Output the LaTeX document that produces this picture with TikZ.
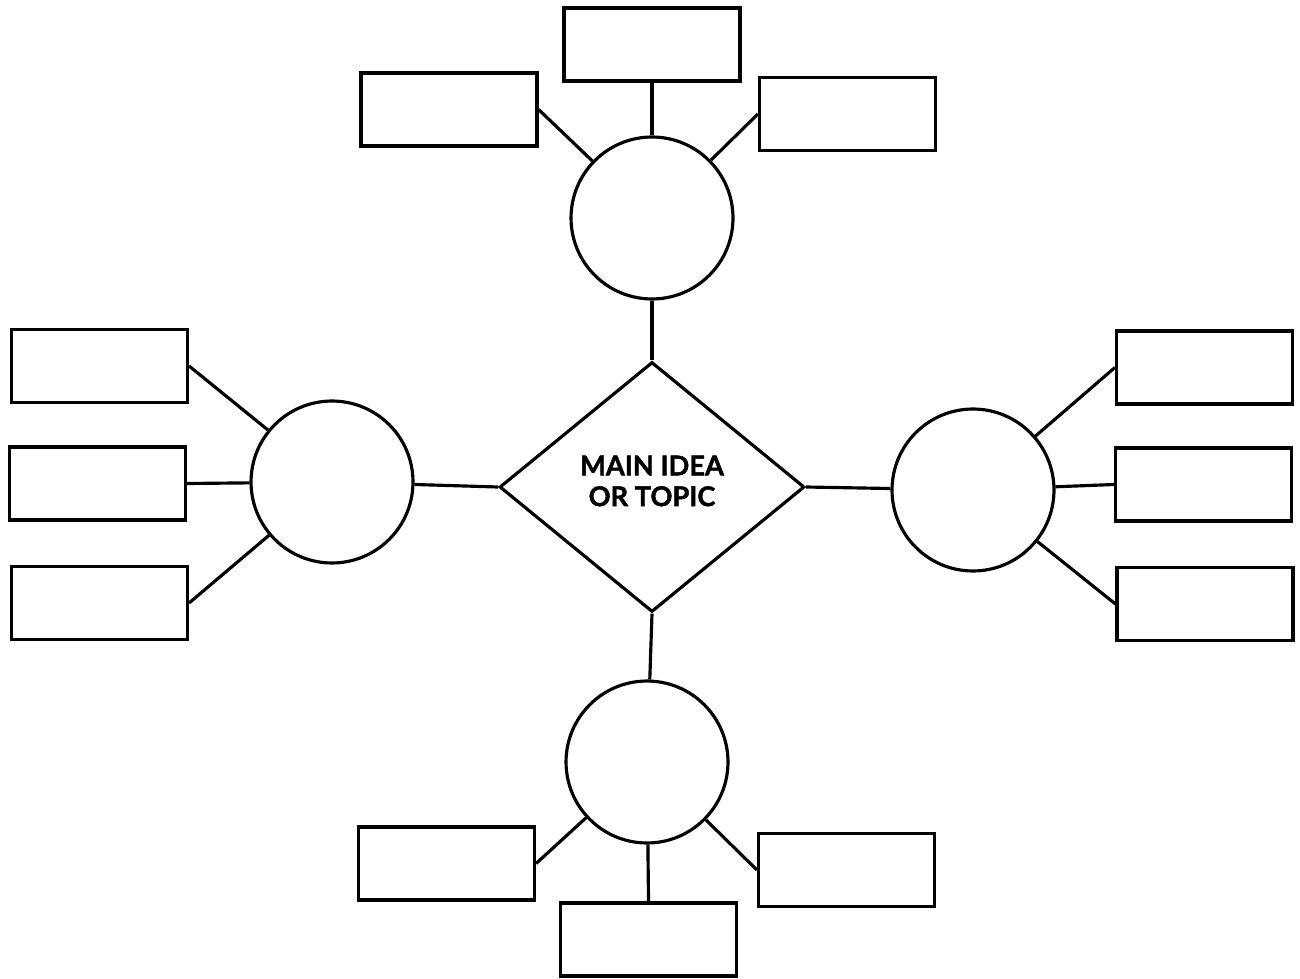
\documentclass[tikz,border=0pt]{standalone}
\usepackage{fontspec}
\newfontfamily\mainlbl{Lato}[FakeBold=1.5]
\usetikzlibrary{shapes.geometric}
\begin{document}
\begin{tikzpicture}[x=0.02cm,y=-0.02cm, line width=1.8pt,
  box/.style={draw, rectangle, minimum width=3.52cm, minimum height=1.46cm, inner sep=0pt},
  sub/.style={draw, circle, minimum size=3.24cm, inner sep=0pt},
  hub/.style={draw, diamond, minimum width=6.1cm, minimum height=5.0cm, inner sep=0pt},
  hubtext/.style={align=center, inner sep=0pt,
    font=\mainlbl\bfseries\fontsize{15.5}{18.5}\selectfont},
  link/.style={line width=1.8pt}]
\useasboundingbox (0,0) rectangle (1300,979);
\node[hub] (main) at (652,487) {};
\node[hubtext] (maintext) at (652,481) {MAIN IDEA\\[-1pt]OR TOPIC};
% circles
\node[sub] (ct) at (652,218) {};
\node[sub] (cl) at (332,482) {};
\node[sub] (cr) at (973,490) {};
\node[sub] (cb) at (647,762) {};
% boxes
\node[box] (t1) at (652,44.5) {};
\node[box] (t2) at (449,109.5) {};
\node[box] (t3) at (847.5,114) {};
\node[box] (l1) at (99.5,366) {};
\node[box] (l2) at (97.5,483.5) {};
\node[box] (l3) at (99.5,603) {};
\node[box] (r1) at (1204.5,367.5) {};
\node[box] (r2) at (1203.5,484.5) {};
\node[box] (r3) at (1205,604) {};
\node[box] (b1) at (446.5,863.5) {};
\node[box] (b2) at (648.5,939.5) {};
\node[box] (b3) at (846.5,870) {};
% connectors
\draw[link] (main.north) -- (ct);
\draw[link] (main.west) -- (cl);
\draw[link] (main.east) -- (cr);
\draw[link] (main.south) -- (cb);
\draw[link] (t1.south) -- (ct);
\draw[link] (t2.east) -- (ct);
\draw[link] (t3.west) -- (ct);
\draw[link] (l1.east) -- (cl);
\draw[link] (l2.east) -- (cl);
\draw[link] (l3.east) -- (cl);
\draw[link] (r1.west) -- (cr);
\draw[link] (r2.west) -- (cr);
\draw[link] (r3.west) -- (cr);
\draw[link] (b1.east) -- (cb);
\draw[link] (b2.north) -- (cb);
\draw[link] (b3.west) -- (cb);
\end{tikzpicture}
\end{document}
